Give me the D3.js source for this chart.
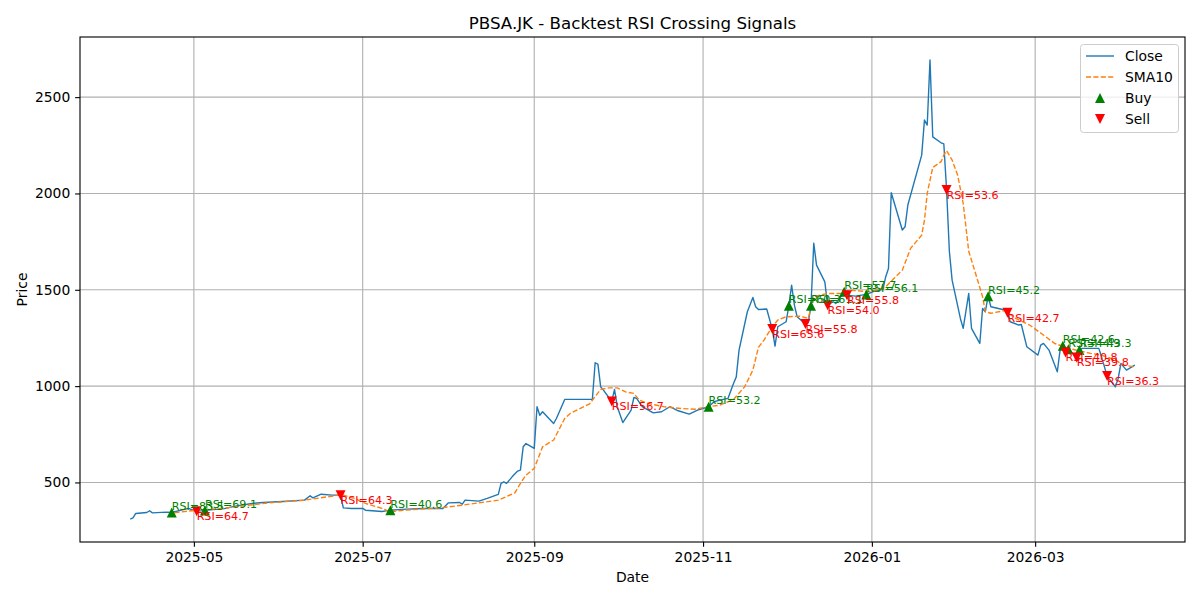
<!DOCTYPE html>
<html>
<head>
<meta charset="utf-8">
<script src="https://cdn.jsdelivr.net/npm/d3@7"></script>
<style>
  body { margin: 0; background: #fff; }
  svg { display: block; font-family: 'DejaVu Sans', sans-serif; }
</style>
</head>
<body>
<div id="chart"></div>
<script>
// ---- Data ----
const closeDates = [
  '2025-04-08','2025-04-09','2025-04-10','2025-04-14','2025-04-15','2025-04-16','2025-04-21','2025-04-23',
  '2025-04-29','2025-05-02','2025-05-05','2025-05-12','2025-05-16','2025-05-22','2025-05-26','2025-06-02',
  '2025-06-10','2025-06-12','2025-06-13','2025-06-16','2025-06-20','2025-06-23','2025-06-24','2025-06-27',
  '2025-07-01','2025-07-02','2025-07-08','2025-07-11','2025-07-15','2025-07-23','2025-07-30','2025-08-01',
  '2025-08-05','2025-08-06','2025-08-07','2025-08-12','2025-08-15','2025-08-19','2025-08-20','2025-08-21',
  '2025-08-22','2025-08-24','2025-08-26','2025-08-27','2025-08-28','2025-08-29','2025-09-01','2025-09-02',
  '2025-09-03','2025-09-04','2025-09-08','2025-09-09','2025-09-12','2025-09-22','2025-09-23','2025-09-24',
  '2025-09-25','2025-09-26','2025-09-29','2025-09-30','2025-10-01','2025-10-03','2025-10-06','2025-10-07',
  '2025-10-08','2025-10-10','2025-10-14','2025-10-17','2025-10-20','2025-10-23','2025-10-27','2025-10-30',
  '2025-11-03','2025-11-05','2025-11-07','2025-11-10','2025-11-12','2025-11-13','2025-11-14','2025-11-17',
  '2025-11-19','2025-11-20','2025-11-21','2025-11-24','2025-11-26','2025-11-27','2025-11-28','2025-12-01',
  '2025-12-02','2025-12-03','2025-12-04','2025-12-05','2025-12-08','2025-12-09','2025-12-10','2025-12-11',
  '2025-12-12','2025-12-15','2025-12-16','2025-12-18','2025-12-19','2025-12-22','2025-12-23','2025-12-26',
  '2025-12-30','2026-01-02','2026-01-05','2026-01-06','2026-01-07','2026-01-08','2026-01-12','2026-01-13',
  '2026-01-14','2026-01-19','2026-01-20','2026-01-21','2026-01-22','2026-01-23','2026-01-26','2026-01-27',
  '2026-01-28','2026-01-29','2026-01-30','2026-02-02','2026-02-03','2026-02-04','2026-02-05','2026-02-06',
  '2026-02-09','2026-02-10','2026-02-11','2026-02-12','2026-02-13','2026-02-18','2026-02-19','2026-02-20',
  '2026-02-23','2026-02-24','2026-02-26','2026-03-02','2026-03-03','2026-03-04','2026-03-06','2026-03-09',
  '2026-03-10','2026-03-11','2026-03-12','2026-03-13','2026-03-16','2026-03-17','2026-03-18','2026-03-24',
  '2026-03-25','2026-03-27','2026-03-30','2026-03-31','2026-04-01','2026-04-02','2026-04-03','2026-04-06'
];
const closeValues = [
  310, 316, 339, 344, 353, 342, 346, 344,
  365, 350, 355, 364, 377, 391, 396, 401,
  408, 431, 420, 439, 434, 434, 368, 365,
  365, 356, 349, 356, 360, 365, 365, 394,
  396, 387, 408, 403, 417, 438, 495, 503,
  495, 529, 559, 564, 685, 702, 677, 893,
  849, 867, 806, 832, 931, 931, 1121, 1114,
  996, 979, 920, 983, 893, 811, 875, 941,
  936, 893, 861, 867, 893, 872, 855, 875,
  893, 919, 927, 936, 1014, 1048, 1187, 1386,
  1460, 1412, 1398, 1400, 1296, 1208, 1308, 1334,
  1417, 1524, 1420, 1360, 1322, 1330, 1417, 1742,
  1628, 1541, 1420, 1438, 1429, 1490, 1472, 1467,
  1476, 1493, 1502, 1568, 1611, 2004, 1810, 1827,
  1940, 2199, 2381, 2355, 2693, 2294, 2263, 2257,
  2018, 1700, 1550, 1350, 1300, 1390, 1481, 1300,
  1222, 1403, 1386, 1467, 1412, 1395, 1381, 1334,
  1317, 1320, 1204, 1161, 1213, 1222, 1187, 1074,
  1187, 1209, 1175, 1192, 1149, 1187, 1196, 1196,
  1152, 1052, 996, 1040, 1118, 1100, 1083, 1109
];

const smaDates = [
  '2025-04-24','2025-05-02','2025-05-11','2025-05-28','2025-06-10','2025-06-21','2025-06-23','2025-06-28',
  '2025-07-02','2025-07-08','2025-07-11','2025-07-16','2025-07-29','2025-08-06','2025-08-19','2025-08-25',
  '2025-08-27','2025-08-29','2025-09-01','2025-09-04','2025-09-08','2025-09-12','2025-09-14','2025-09-21',
  '2025-09-25','2025-09-28','2025-10-01','2025-10-04','2025-10-07','2025-10-09','2025-10-12','2025-10-18',
  '2025-10-24','2025-10-29','2025-11-03','2025-11-07','2025-11-12','2025-11-16','2025-11-19','2025-11-21',
  '2025-11-23','2025-11-26','2025-11-28','2025-12-01','2025-12-06','2025-12-09','2025-12-11','2025-12-16',
  '2025-12-21','2025-12-24','2025-12-31','2026-01-05','2026-01-06','2026-01-12','2026-01-15','2026-01-19',
  '2026-01-20','2026-01-21','2026-01-23','2026-01-26','2026-01-27','2026-01-28','2026-01-30','2026-02-01',
  '2026-02-03','2026-02-05','2026-02-08','2026-02-10','2026-02-11','2026-02-13','2026-02-18','2026-02-22',
  '2026-02-27','2026-03-04','2026-03-08','2026-03-13','2026-03-21','2026-03-25','2026-03-30','2026-04-02',
  '2026-04-06'
];
const smaValues = [
  343, 356, 365, 394, 408, 431, 438, 417,
  391, 365, 347, 356, 368, 382, 408, 446,
  495, 538, 573, 685, 720, 832, 858, 908,
  983, 991, 991, 970, 962, 927, 910, 893,
  884, 880, 893, 901, 931, 996, 1083, 1201,
  1239, 1308, 1343, 1360, 1363, 1352, 1464, 1481,
  1481, 1498, 1490, 1507, 1516, 1602, 1715, 1784,
  1862, 2000, 2135, 2165, 2199, 2222, 2173, 2095,
  1949, 1700, 1560, 1464, 1386, 1378, 1392, 1351,
  1317, 1265, 1222, 1196, 1170, 1161, 1135, 1109,
  1100
];

const buyDates = ['2025-04-23','2025-05-05','2025-07-11','2025-11-03','2025-12-02','2025-12-10',
  '2025-12-22','2025-12-30','2026-02-12','2026-03-11','2026-03-13','2026-03-17'];
const buyPrices = [344, 355, 356, 893, 1417, 1417, 1490, 1476, 1467, 1209, 1192, 1187];
const buyRsi = [83.5, 69.1, 40.6, 53.2, 60.3, 61.1, 57.7, 56.1, 45.2, 42.6, 44.9, 43.3];

const sellDates = ['2025-05-02','2025-06-23','2025-09-29','2025-11-26','2025-12-08','2025-12-16',
  '2025-12-23','2026-01-28','2026-02-19','2026-03-12','2026-03-16','2026-03-27'];
const sellPrices = [350, 434, 920, 1296, 1322, 1420, 1472, 2018, 1381, 1175, 1149, 1052];
const sellRsi = [64.7, 64.3, 56.7, 65.6, 55.8, 54.0, 55.8, 53.6, 42.7, 40.8, 39.8, 36.3];

const xTickDates = ['2025-05-01','2025-07-01','2025-09-01','2025-11-01','2026-01-01','2026-03-01'];
const yTickValues = [500, 1000, 1500, 2000, 2500];

// ---- Layout ----
const W = 1200, H = 600;
const plot = { left: 80, right: 1185, top: 37, bottom: 542 };
const PT = 100 / 72; // matplotlib points -> px

const parse = d3.timeParse('%Y-%m-%d');
const close = closeDates.map((d, i) => ({ date: parse(d), value: closeValues[i] }));
const sma = smaDates.map((d, i) => ({ date: parse(d), value: smaValues[i] }));
const buys = buyDates.map((d, i) => ({ date: parse(d), value: buyPrices[i], rsi: buyRsi[i] }));
const sells = sellDates.map((d, i) => ({ date: parse(d), value: sellPrices[i], rsi: sellRsi[i] }));

// ---- Scales (5% margins like matplotlib) ----
const xExt = d3.extent(close, d => d.date);
const xPad = (xExt[1] - xExt[0]) * 0.05;
const x = d3.scaleTime()
  .domain([new Date(+xExt[0] - xPad), new Date(+xExt[1] + xPad)])
  .range([plot.left, plot.right]);

const yExt = d3.extent(close, d => d.value);
const yPad = (yExt[1] - yExt[0]) * 0.05;
const y = d3.scaleLinear()
  .domain([yExt[0] - yPad, yExt[1] + yPad])
  .range([plot.bottom, plot.top]);

const svg = d3.select('#chart').append('svg')
  .attr('width', W).attr('height', H)
  .attr('viewBox', [0, 0, W, H]);

svg.append('defs').append('clipPath').attr('id', 'clip')
  .append('rect')
  .attr('x', plot.left).attr('y', plot.top)
  .attr('width', plot.right - plot.left).attr('height', plot.bottom - plot.top);

// ---- Grid ----
const xTicks = xTickDates.map(parse);
const grid = svg.append('g').attr('stroke', '#b0b0b0').attr('stroke-width', 0.8 * PT);
grid.selectAll('.gx').data(xTicks).join('line')
  .attr('x1', d => x(d)).attr('x2', d => x(d))
  .attr('y1', plot.top).attr('y2', plot.bottom);
grid.selectAll('.gy').data(yTickValues).join('line')
  .attr('x1', plot.left).attr('x2', plot.right)
  .attr('y1', d => y(d)).attr('y2', d => y(d));

// ---- Lines ----
const line = d3.line().x(d => x(d.date)).y(d => y(d.value));
const lines = svg.append('g').attr('clip-path', 'url(#clip)');

lines.append('path')
  .datum(close)
  .attr('d', line)
  .attr('fill', 'none')
  .attr('stroke', '#1f77b4')
  .attr('stroke-width', 1.0 * PT)
  .attr('stroke-linejoin', 'round');

lines.append('path')
  .datum(sma)
  .attr('d', line)
  .attr('fill', 'none')
  .attr('stroke', '#ff7f0e')
  .attr('stroke-width', 1.0 * PT)
  .attr('stroke-dasharray', `${3.7 * PT},${1.6 * PT}`);

// ---- Markers ----
const ms = 5; // half marker size, px
const triUp = `M0,${-ms}L${-ms},${ms}L${ms},${ms}Z`;
const triDown = `M0,${ms}L${-ms},${-ms}L${ms},${-ms}Z`;

svg.append('g').selectAll('path').data(buys).join('path')
  .attr('d', triUp)
  .attr('transform', d => `translate(${x(d.date)},${y(d.value)})`)
  .attr('fill', '#008000');

svg.append('g').selectAll('path').data(sells).join('path')
  .attr('d', triDown)
  .attr('transform', d => `translate(${x(d.date)},${y(d.value)})`)
  .attr('fill', '#ff0000');

// ---- RSI labels ----
const fsSmall = 8 * PT;
svg.append('g').selectAll('text').data(buys).join('text')
  .attr('x', d => x(d.date))
  .attr('y', d => y(d.value) - 2.6)
  .attr('font-size', fsSmall)
  .attr('fill', '#008000')
  .text(d => `RSI=${d.rsi.toFixed(1)}`);

svg.append('g').selectAll('text').data(sells).join('text')
  .attr('x', d => x(d.date))
  .attr('y', d => y(d.value) + 8.8)
  .attr('font-size', fsSmall)
  .attr('fill', '#ff0000')
  .text(d => `RSI=${d.rsi.toFixed(1)}`);

// ---- Axes ----
const fsTick = 10 * PT;
const xAxis = d3.axisBottom(x)
  .tickValues(xTicks)
  .tickFormat(d3.timeFormat('%Y-%m'))
  .tickSizeInner(3.5 * PT)
  .tickSizeOuter(0)
  .tickPadding(3.5 * PT);
const gx = svg.append('g')
  .attr('transform', `translate(0,${plot.bottom})`)
  .call(xAxis);
gx.select('.domain').remove();
gx.selectAll('line').attr('stroke', '#000').attr('stroke-width', 0.8 * PT);
gx.selectAll('text').attr('font-size', fsTick).attr('fill', '#000')
  .attr('font-family', 'DejaVu Sans, sans-serif');

const yAxis = d3.axisLeft(y)
  .tickValues(yTickValues)
  .tickFormat(d3.format('d'))
  .tickSizeInner(3.5 * PT)
  .tickSizeOuter(0)
  .tickPadding(3.5 * PT);
const gy = svg.append('g')
  .attr('transform', `translate(${plot.left},0)`)
  .call(yAxis);
gy.select('.domain').remove();
gy.selectAll('line').attr('stroke', '#000').attr('stroke-width', 0.8 * PT);
gy.selectAll('text').attr('font-size', fsTick).attr('fill', '#000')
  .attr('font-family', 'DejaVu Sans, sans-serif');

// Spines
svg.append('rect')
  .attr('x', plot.left).attr('y', plot.top)
  .attr('width', plot.right - plot.left).attr('height', plot.bottom - plot.top)
  .attr('fill', 'none')
  .attr('stroke', '#000')
  .attr('stroke-width', 0.8 * PT);

// ---- Titles ----
svg.append('text')
  .attr('x', (plot.left + plot.right) / 2)
  .attr('y', 29)
  .attr('text-anchor', 'middle')
  .attr('font-size', 12 * PT)
  .text('PBSA.JK - Backtest RSI Crossing Signals');

svg.append('text')
  .attr('x', (plot.left + plot.right) / 2)
  .attr('y', 582)
  .attr('text-anchor', 'middle')
  .attr('font-size', fsTick)
  .text('Date');

svg.append('text')
  .attr('transform', `translate(27,${(plot.top + plot.bottom) / 2}) rotate(-90)`)
  .attr('text-anchor', 'middle')
  .attr('font-size', fsTick)
  .text('Price');

// ---- Legend ----
const legendItems = [
  { label: 'Close', kind: 'line', color: '#1f77b4' },
  { label: 'SMA10', kind: 'dash', color: '#ff7f0e' },
  { label: 'Buy', kind: 'up', color: '#008000' },
  { label: 'Sell', kind: 'down', color: '#ff0000' },
];
const lg = svg.append('g');
lg.append('rect')
  .attr('x', 1080.5).attr('y', 44.5)
  .attr('width', 98).attr('height', 88)
  .attr('rx', 3)
  .attr('fill', '#fff').attr('fill-opacity', 0.8)
  .attr('stroke', '#cccccc').attr('stroke-width', 1);

const rows = lg.selectAll('g').data(legendItems).join('g')
  .attr('transform', (d, i) => `translate(0,${56 + i * 21})`);
rows.filter(d => d.kind === 'line' || d.kind === 'dash')
  .append('line')
  .attr('x1', 1086).attr('x2', 1114)
  .attr('stroke', d => d.color)
  .attr('stroke-width', 1.0 * PT)
  .attr('stroke-dasharray', d => d.kind === 'dash' ? `${3.7 * PT},${1.6 * PT}` : null);
rows.filter(d => d.kind === 'up').append('path')
  .attr('d', triUp).attr('transform', 'translate(1100,0)').attr('fill', d => d.color);
rows.filter(d => d.kind === 'down').append('path')
  .attr('d', triDown).attr('transform', 'translate(1100,0)').attr('fill', d => d.color);
rows.append('text')
  .attr('x', 1125).attr('y', 5)
  .attr('font-size', fsTick)
  .text(d => d.label);
</script>
</body>
</html>
